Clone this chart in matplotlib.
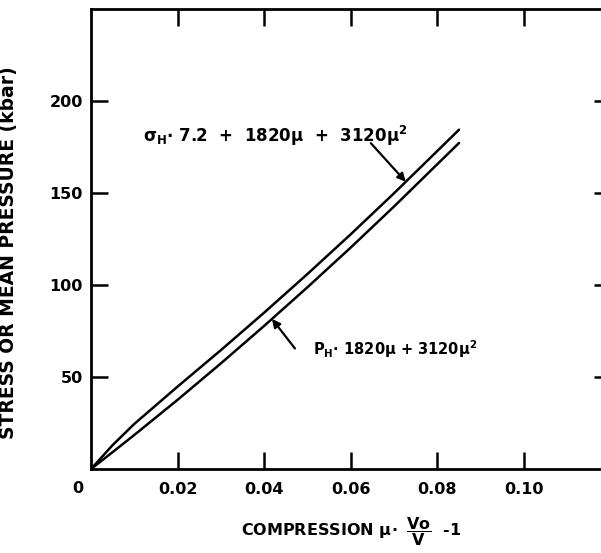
import numpy as np
import matplotlib
matplotlib.use("Agg")
from matplotlib import pyplot as plt

# values
mu = [0.0, 0.005, 0.01, 0.02, 0.03, 0.04, 0.05, 0.06, 0.07, 0.085]
p_h = [0.0, 9.2, 18.5, 37.6, 57.4, 77.8, 98.8, 120.4, 142.7, 177.2]
sigma_h = [0.0, 13.0, 24.5, 44.8, 64.6, 85.0, 106.0, 127.6, 149.9, 184.4]

x_ticks = [0.02, 0.04, 0.06, 0.08, 0.10]
x_tick_labels = ["0.02", "0.04", "0.06", "0.08", "0.10"]
y_ticks = [50, 100, 150, 200]
y_tick_labels = ["50", "100", "150", "200"]

plt.rcParams["font.family"] = ["DejaVu Sans"]
plt.rcParams["font.weight"] = "bold"
plt.rcParams["axes.labelweight"] = "bold"
plt.rcParams["mathtext.fontset"] = "dejavusans"
plt.rcParams["mathtext.default"] = "bf"

fig = plt.figure(figsize=(6.01, 5.53), dpi=100)
# right edge of the frame runs off the page, as in the original scan
ax = fig.add_axes([91 / 601, 84 / 553, 519.6 / 601, 460 / 553])

ax.plot(mu, sigma_h, color="black", lw=1.8, solid_capstyle="round")
ax.plot(mu, p_h, color="black", lw=1.8, solid_capstyle="round")

ax.set_xlim(0, 0.12)
ax.set_ylim(0, 250)

for side in ["left", "right", "top", "bottom"]:
    ax.spines[side].set_linewidth(2)

ax.set_xticks(x_ticks)
ax.set_xticklabels(x_tick_labels)
ax.set_yticks(y_ticks)
ax.set_yticklabels(y_tick_labels)
ax.tick_params(direction="in", length=12, width=1.8, top=True, right=True,
               labelsize=11.5)
ax.tick_params(axis="x", pad=9)
ax.tick_params(axis="y", pad=6)

# shared origin label, sits below-left of the corner
ax.text(-0.003, -10.5, "0", fontsize=11.5, ha="center", va="center",
        transform=ax.transData, clip_on=False)

ax.set_ylabel("STRESS OR MEAN PRESSURE (kbar)", fontsize=13.5)
ax.yaxis.set_label_coords(-0.14, 0.47)
ax.set_xlabel(r"COMPRESSION $\mu\!\bullet$ $\dfrac{Vo}{V}$  -1",
              fontsize=11.5)
ax.xaxis.set_label_coords(0.5, -0.10)

# annotations with arrows onto the curves
mu_top = 0.0727
ax.annotate(r"$\sigma_H$$\bullet$ 7.2  +  1820$\mu$  +  3120$\mu^2$",
            xy=(mu_top, np.interp(mu_top, mu, sigma_h)),
            xytext=(0.0121, 181), textcoords="data",
            fontsize=12, ha="left", va="center",
            arrowprops=dict(arrowstyle="-|>", color="black", lw=1.6,
                            mutation_scale=12, shrinkA=0, shrinkB=0,
                            patchA=None, relpos=(0.86, 0.2)))

mu_low = 0.0418
ax.annotate(r"$P_H$$\bullet$ 1820$\mu$ + 3120$\mu^2$",
            xy=(mu_low, np.interp(mu_low, mu, p_h)),
            xytext=(0.0513, 65), textcoords="data",
            fontsize=10.5, ha="left", va="center")
ax.annotate("",
            xy=(mu_low, np.interp(mu_low, mu, p_h)),
            xytext=(0.0471, 65.5), textcoords="data",
            arrowprops=dict(arrowstyle="-|>", color="black", lw=1.6,
                            mutation_scale=12, shrinkA=0, shrinkB=0))

fig.savefig("out.png", dpi=100)
